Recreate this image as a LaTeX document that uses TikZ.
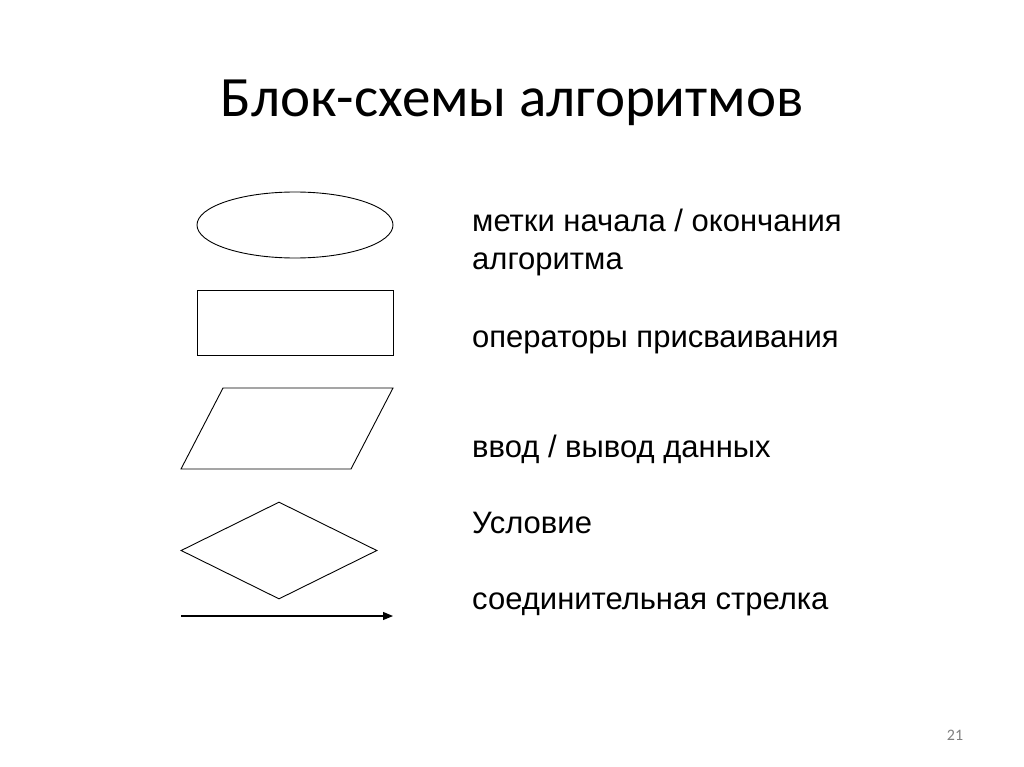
\documentclass[tikz,border=0pt]{standalone}
\usepackage{fontspec}
\setmainfont{Liberation Sans}
\newfontfamily\titlefont{Carlito}
\usetikzlibrary{positioning}
\usetikzlibrary{arrows.meta}
\usetikzlibrary{shapes.geometric}
\usepackage{xcolor}

\begin{document}
\begin{tikzpicture}[x=1pt, y=-1pt,
    blockshape/.style={draw, line width=0.9pt, inner sep=0pt},
    legend/.style={anchor=base west, inner sep=0pt, font=\fontsize{31}{37}\selectfont}]
\useasboundingbox (0,0) rectangle (1024,767);

% Title
\node[anchor=base, inner sep=0pt, font=\titlefont\fontsize{57}{68}\selectfont] (title) at (512,117) {Блок-схемы алгоритмов};

% Shapes
\node[blockshape, ellipse, minimum width=196pt, minimum height=66pt] (term) at (295,225) {};
\node[blockshape, rectangle, minimum width=196pt, minimum height=65pt] (proc) at (295,322.5) {};
\draw[line width=0.9pt] (223,388) -- (393,388) -- (351,469) -- (181,469) -- cycle;
\node[blockshape, diamond, minimum width=196pt, minimum height=97pt] (cond) at (279,550.5) {};
\coordinate (arrA) at (181,616);
\coordinate (arrB) at (393,616);
\draw[-{Triangle[length=10pt, width=8pt]}, line width=1.1pt] (arrA) -- (arrB);

% Labels
\node[legend] (l1) at (472,232) {метки начала / окончания};
\node[legend] (l2) at (472,269) {алгоритма};
\node[legend] (l3) at (472,347) {операторы присваивания};
\node[legend] (l4) at (472,457) {ввод / вывод данных};
\node[legend] (l5) at (472,533) {Условие};
\node[legend] (l6) at (472,609) {соединительная стрелка};

% Page number
\node[anchor=base, inner sep=0pt, text=gray, font=\titlefont\fontsize{16}{18}\selectfont] (page) at (955,740) {21};
\end{tikzpicture}
\end{document}
